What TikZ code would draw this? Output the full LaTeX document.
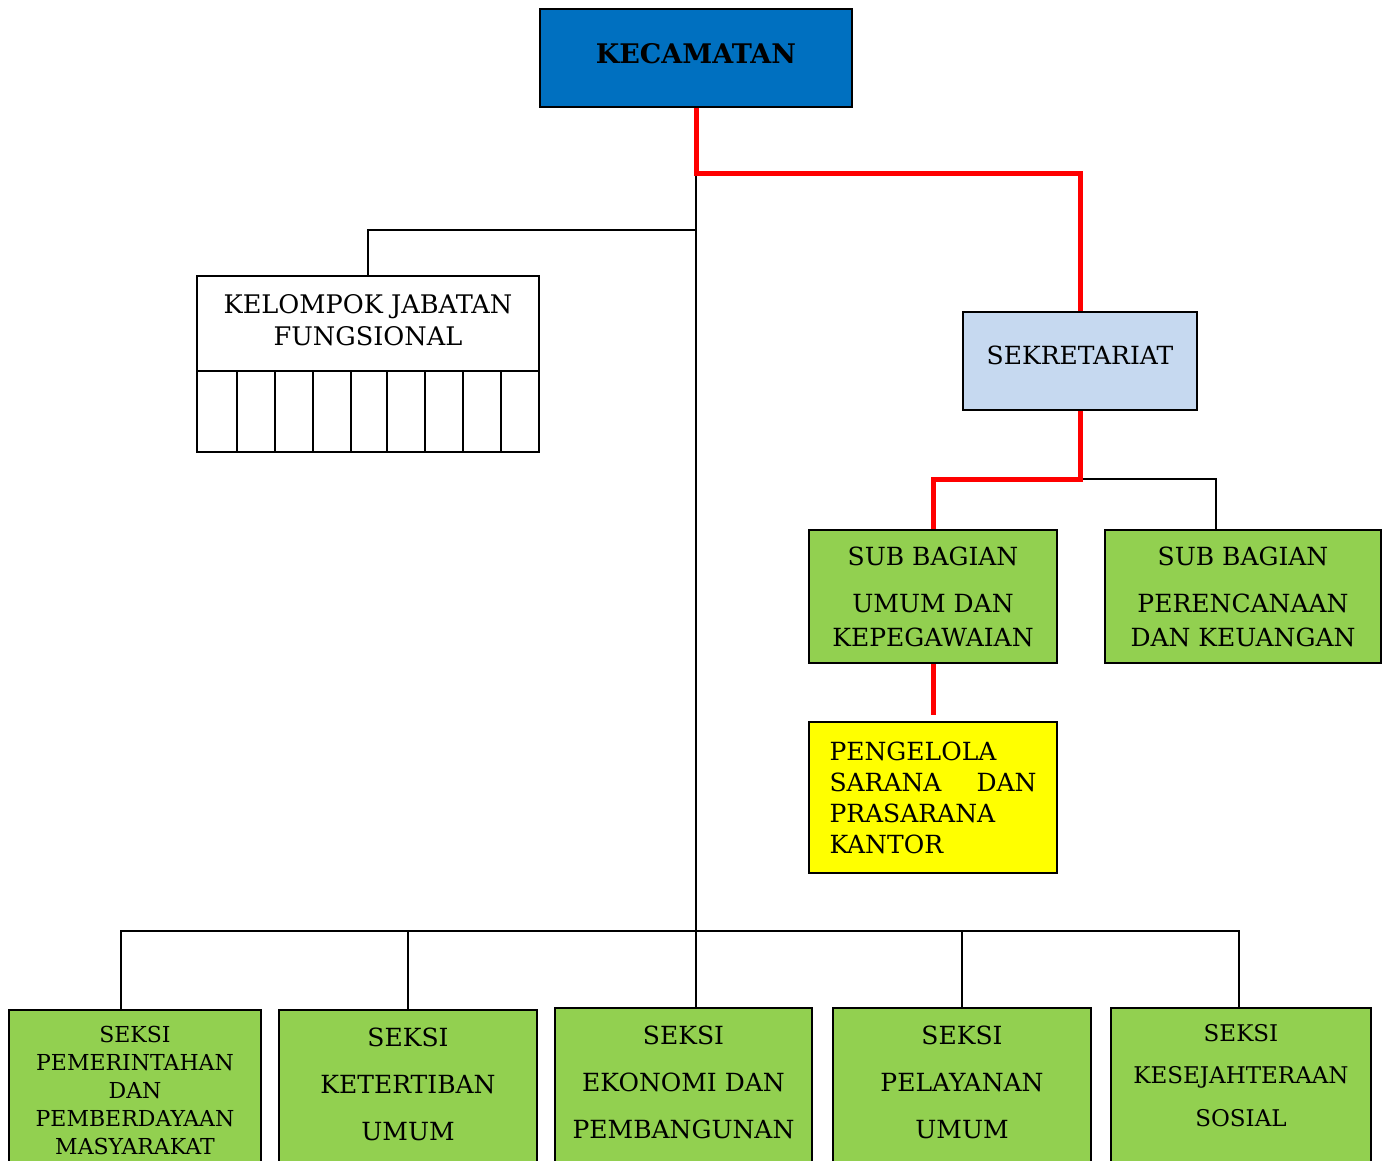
\documentclass[tikz,border=0pt]{standalone}
\usepackage{fontspec}
\setmainfont{DejaVu Serif}
\usetikzlibrary{calc}

\definecolor{kecblue}{RGB}{0,112,192}
\definecolor{sekblue}{RGB}{198,217,240}
\definecolor{unitgreen}{RGB}{146,208,80}
\definecolor{staffyellow}{RGB}{255,255,0}
\definecolor{linered}{RGB}{255,0,0}

\begin{document}
\begin{tikzpicture}[x=0.5pt,y=-0.5pt,
  unit/.style={draw,line width=1pt,rectangle,align=center,inner sep=0pt},
  seksi/.style={unit,fill=unitgreen,anchor=north,inner xsep=0pt},
  conn/.style={line width=0.75pt},
  redline/.style={line width=2.5pt,linered}]

  \useasboundingbox (0,0) rectangle (1389,1161);
  \clip (0,0) rectangle (1389,1161);

  \node[unit,fill=kecblue,minimum width=156pt,minimum height=49pt,text depth=5pt,font=\bfseries\fontsize{13.5}{15}\selectfont] (kec) at (696,58) {KECAMATAN};

  \node[unit,minimum width=171pt,minimum height=47.5pt,text depth=4pt,font=\fontsize{12.8}{16}\selectfont] (kjf) at (368,323.5) {KELOMPOK JABATAN\\FUNGSIONAL};
  % kotak jabatan fungsional
  \draw[line width=1pt] (197,371) rectangle (539,452);
  \foreach \gx in {237,275,313,351,387,425,463,501}
    \draw[line width=1pt] (\gx,371) -- (\gx,452);

  \node[unit,fill=sekblue,minimum width=117pt,minimum height=49pt,text depth=6pt,font=\fontsize{12.5}{15}\selectfont] (sek) at (1080,361) {SEKRETARIAT};

  \node[unit,fill=unitgreen,minimum width=124pt,minimum height=66.5pt,font=\fontsize{12.5}{17}\selectfont] (sbu) at (933,596.5) {SUB BAGIAN\\[6.5pt]UMUM DAN\\KEPEGAWAIAN};
  \node[unit,fill=unitgreen,minimum width=138pt,minimum height=66.5pt,font=\fontsize{12.5}{17}\selectfont] (sbp) at (1243,596.5) {SUB BAGIAN\\[6.5pt]PERENCANAAN\\DAN KEUANGAN};

  \node[unit,fill=staffyellow,minimum width=124pt,minimum height=75.5pt,align=left,text width=103.5pt,font=\fontsize{12.5}{15.5}\selectfont] (psp) at (933,797.5) {PENGELOLA\\SARANA\hfill DAN\\PRASARANA\\KANTOR};

  % seksi
  \node[seksi,minimum width=126pt,inner ysep=8pt,text depth=60pt,font=\fontsize{11}{14}\selectfont] (b1) at (135,1009) {SEKSI\\PEMERINTAHAN\\DAN\\PEMBERDAYAAN\\MASYARAKAT};
  \node[seksi,minimum width=129pt,inner ysep=9pt,text depth=60pt,font=\fontsize{12.5}{23.5}\selectfont] (b2) at (408,1009) {SEKSI\\KETERTIBAN\\UMUM};
  \node[seksi,minimum width=128.5pt,inner ysep=9pt,text depth=60pt,font=\fontsize{12.5}{23.5}\selectfont] (b3) at (683.5,1007) {SEKSI\\EKONOMI DAN\\PEMBANGUNAN};
  \node[seksi,minimum width=129pt,inner ysep=9pt,text depth=60pt,font=\fontsize{12.5}{23.5}\selectfont] (b4) at (962,1007) {SEKSI\\PELAYANAN\\UMUM};
  \node[seksi,minimum width=130pt,inner ysep=8pt,text depth=60pt,font=\fontsize{11.5}{21.25}\selectfont] (b5) at (1241,1007) {SEKSI\\KESEJAHTERAAN\\SOSIAL};

  \coordinate (j1) at (696,174);
  \coordinate (bus) at (696,931);
  \coordinate (j2) at (1080,479);

  \draw[conn] (j1) -- (bus);
  \draw[conn] (696,230) -| (kjf.north);
  \draw[conn] ($(b1.north)+(-14,0)$) |- (bus) -| ($(b5.north)+(-2,0)$);
  \draw[conn] (b2.north) -- (b2.north |- bus);
  \draw[conn] (bus) -- (bus |- b3.north);
  \draw[conn] (b4.north) -- (b4.north |- bus);
  \draw[conn] (j2) -| ($(sbp.north)+(-27,0)$);

  \draw[redline] (kec.south) -- (j1) -| (sek.north);
  \draw[redline] (sek.south) -- (j2) -| (sbu.north);
  \draw[redline,shorten >=3pt] (sbu.south) -- (psp.north);

\end{tikzpicture}
\end{document}
